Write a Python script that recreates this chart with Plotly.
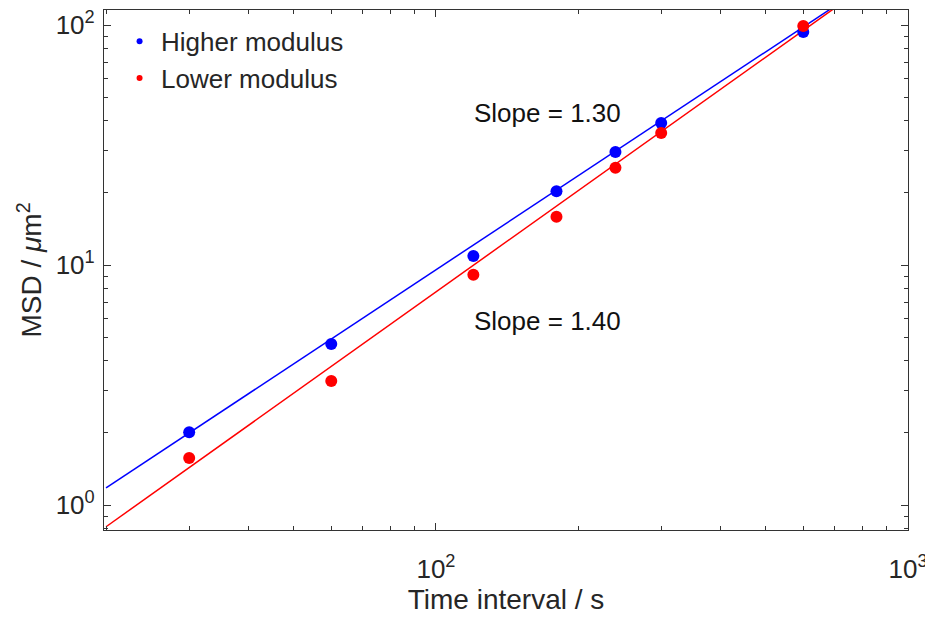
import numpy as np
import plotly.graph_objects as go

# Data
time_interval = [30, 60, 120, 180, 240, 300, 600]
msd_higher = [2.01, 4.69, 10.9, 20.3, 29.6, 39.1, 93.5]
msd_lower = [1.57, 3.29, 9.1, 15.9, 25.4, 35.5, 99.0]

# Power-law fits: MSD = prefactor * t ** slope
fit_slopes = [1.30, 1.40]
fit_prefactors = [0.0240, 0.01225]
fit_t = [20, 1000]

series_names = ["Higher modulus", "Lower modulus"]
colors = ["#0000FF", "#FF0000"]

x_tickvals = [100, 1000]
x_ticktext = ["10<sup>2</sup>", "10<sup>3</sup>"]
y_tickvals = [1, 10, 100]
y_ticktext = ["10<sup>0</sup>", "10<sup>1</sup>", "10<sup>2</sup>"]

x_minor = [20, 30, 40, 50, 60, 70, 80, 90, 200, 300, 400, 500, 600, 700, 800, 900]
y_minor = [0.8, 0.9, 2, 3, 4, 5, 6, 7, 8, 9, 20, 30, 40, 50, 60, 70, 80, 90]

FONT = "Liberation Sans, Arial, sans-serif"
TXT = "#262626"

fig = go.Figure()

# fit lines
for slope, pref, col in zip(fit_slopes, fit_prefactors, colors):
    t = np.array(fit_t, dtype=float)
    fig.add_trace(go.Scatter(x=t, y=pref * t ** slope, mode="lines",
                             line=dict(color=col, width=1.5),
                             showlegend=False, hoverinfo="skip"))

# data points
for vals, col in zip([msd_higher, msd_lower], colors):
    fig.add_trace(go.Scatter(x=time_interval, y=vals, mode="markers",
                             marker=dict(color=col, size=12),
                             showlegend=False))

# legend entries (small dots)
for name, col in zip(series_names, colors):
    fig.add_trace(go.Scatter(x=[None], y=[None], mode="markers", name=name,
                             marker=dict(color=col, size=6)))

axis_common = dict(
    type="log", showgrid=False, zeroline=False, automargin=False,
    showline=True, linecolor="#333333", linewidth=1.2, mirror="ticks",
    ticks="inside", ticklen=7, tickcolor="#333333", tickwidth=1,
    tickmode="array", ticklabeloverflow="allow",
    tickfont=dict(family=FONT, size=26, color=TXT),
)

fig.update_xaxes(
    **axis_common,
    range=[np.log10(19.8), np.log10(1000)],
    tickvals=x_tickvals, ticktext=x_ticktext,
    ticklabelstandoff=16,
    minor=dict(tickvals=x_minor, ticks="inside", ticklen=4,
               tickcolor="#333333", tickwidth=1),
    title=dict(text="Time interval / s", font=dict(family=FONT, size=28, color=TXT),
               standoff=6),
)
fig.update_yaxes(
    **axis_common,
    range=[np.log10(0.787), np.log10(115.5)],
    tickvals=y_tickvals, ticktext=y_ticktext,
    ticklabelstandoff=3,
    minor=dict(tickvals=y_minor, ticks="inside", ticklen=4,
               tickcolor="#333333", tickwidth=1),
    title=dict(text="MSD / <i>μ</i>m<sup>2</sup>", font=dict(family=FONT, size=28, color=TXT),
               standoff=5),
)

fig.add_annotation(x=0.552, y=0.802, xref="paper", yref="paper",
                   xanchor="center", yanchor="middle",
                   text="Slope = 1.30", showarrow=False,
                   font=dict(family=FONT, size=26, color="#111111"))
fig.add_annotation(x=0.552, y=0.402, xref="paper", yref="paper",
                   xanchor="center", yanchor="middle",
                   text="Slope = 1.40", showarrow=False,
                   font=dict(family=FONT, size=26, color="#111111"))

# The page adds an 8px body margin, so the figure is sized 8px smaller.
fig.update_layout(
    width=925, height=612,
    margin=dict(l=96, r=25, t=2, b=90),
    paper_bgcolor="white", plot_bgcolor="white",
    legend=dict(x=0.0175, y=0.985, xanchor="left", yanchor="top",
                bgcolor="rgba(0,0,0,0)", borderwidth=0,
                font=dict(family=FONT, size=26, color=TXT),
                itemwidth=33, tracegroupgap=0),
)

fig.write_html("out.html")
